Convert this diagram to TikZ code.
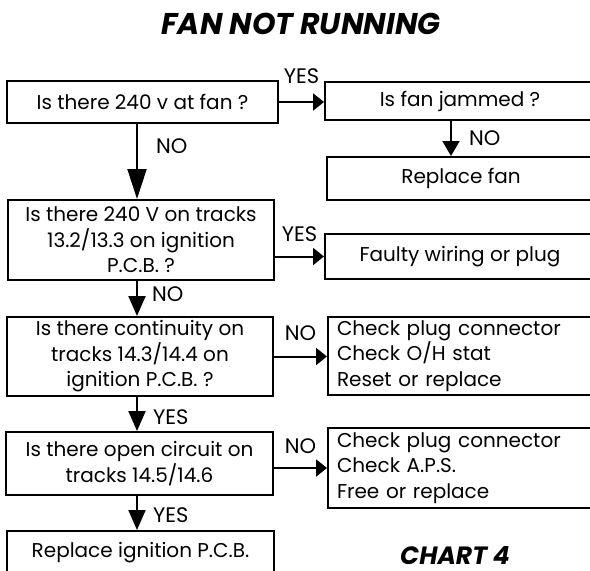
\documentclass[tikz,border=0pt]{standalone}
\usepackage{fontspec}
\setmainfont{Poppins}
\usetikzlibrary{arrows.meta}

\begin{document}
\begin{tikzpicture}[x=1pt, y=-1pt,
  box/.style={draw, line width=2pt, inner sep=0pt, align=center, font=\fontsize{20}{25.5}\selectfont},
  listbox/.style={box, align=left, text width=249pt, inner xsep=9pt},
  flow/.style={line width=2pt, -{Triangle[length=20pt, width=17pt]}},
  sideflow/.style={line width=2pt, -{Triangle[length=11pt, width=17pt]}},
  lbl/.style={inner sep=0pt, font=\fontsize{21}{24}\selectfont}]
\useasboundingbox (0,0) rectangle (590,571);
\coordinate (lcol) at (137,0);
\coordinate (rcol) at (451,0);

\node[font=\bfseries\itshape\fontsize{30}{34}\selectfont] (title) at (301,24) {FAN NOT RUNNING};

% left column
\node[box, minimum width=271pt, minimum height=42pt] (fanv) at (142.5,102) {Is there 240 v at fan ?};
\node[box, minimum width=266pt, minimum height=80pt] (tracksv) at (141,240) {Is there 240 V on tracks\\13.2/13.3 on ignition\\P.C.B. ?};
\node[box, minimum width=266pt, minimum height=79pt] (cont) at (140,356.5) {Is there continuity on\\tracks 14.3/14.4 on\\ignition P.C.B. ?};
\node[box, minimum width=267pt, minimum height=63pt] (open) at (139.5,463.5) {Is there open circuit on\\tracks 14.5/14.6};
\node[box, minimum width=267pt, minimum height=44pt] (pcb) at (140.5,553) {Replace ignition P.C.B.};

% right column
\node[box, minimum width=270pt, minimum height=38pt] (jam) at (460,101) {Is fan jammed ?};
\node[box, minimum width=268pt, minimum height=43pt] (fan) at (461,178.5) {Replace fan};
\node[box, minimum width=270pt, minimum height=45pt] (wiring) at (460,256.5) {Faulty wiring or plug};
\node[listbox, minimum height=78pt] (stat) at (461.5,356) {Check plug connector\\Check O/H stat\\Reset or replace};
\node[listbox, minimum height=80pt] (aps) at (461.5,468) {Check plug connector\\Check A.P.S.\\Free or replace};

\node[font=\bfseries\itshape\fontsize{25}{30}\selectfont, inner sep=0pt, anchor=base] (chart) at (455,564) {CHART 4};

% arrows
\draw[sideflow] (fanv.east) -- node[lbl, above=17pt] {YES} (fanv.east -| jam.west);
\draw[flow, -{Triangle[length=15pt, width=17pt]}] (jam.south -| rcol) -- node[lbl, right=17pt] {NO} (fan.north -| rcol);
\draw[flow, -{Triangle[length=30pt, width=19pt]}] (fanv.south -| lcol) -- node[lbl, pos=0.3, right=18pt] {NO} (tracksv.north -| lcol);
\draw[sideflow] (wiring.west -| tracksv.east) -- node[lbl, above=14pt] {YES} (wiring.west);
\draw[flow] (tracksv.south -| lcol) -- node[lbl, pos=0.38, right=14pt] {NO} (cont.north -| lcol);
\draw[sideflow] (cont.east) -- node[lbl, above=15pt] {NO} (cont.east -| stat.west);
\draw[flow] (cont.south -| lcol) -- node[lbl, pos=0.6, right=15pt] {YES} (open.north -| lcol);
\draw[sideflow] (aps.west -| open.east) -- node[lbl, above=13pt] {NO} (aps.west);
\draw[flow] (open.south -| lcol) -- node[lbl, pos=0.55, right=15pt] {YES} (pcb.north -| lcol);
\end{tikzpicture}
\end{document}
